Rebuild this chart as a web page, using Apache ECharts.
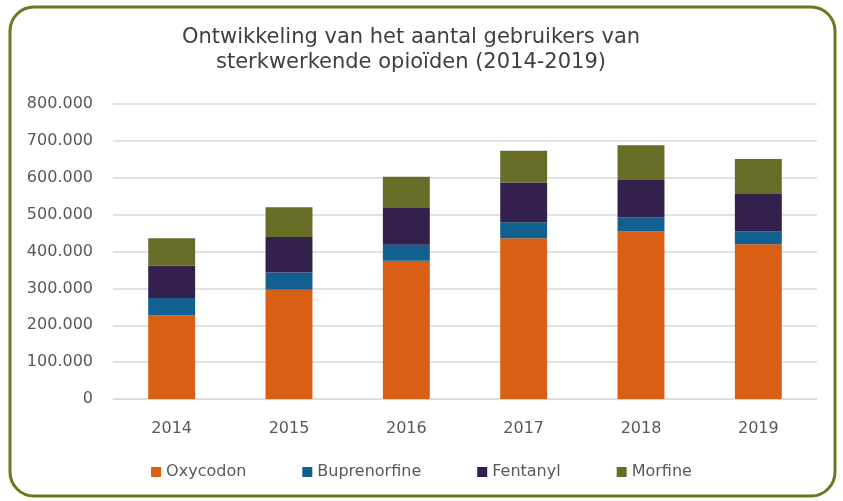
<!DOCTYPE html>
<html>
<head>
<meta charset="utf-8">
<script src="https://cdn.jsdelivr.net/npm/echarts@6/dist/echarts.min.js"></script>
<style>
  html, body { margin: 0; padding: 0; background: #fff; }
  #chart { width: 843px; height: 501px; }
</style>
</head>
<body>
<div id="chart"></div>
<script>
const years = [ "2014", "2015", "2016", "2017", "2018", "2019" ];
const oxycodon = [ 227000, 296000, 375000, 436000, 454000, 420000 ];
const buprenorfine = [ 47000, 47000, 43000, 43000, 39000, 35000 ];
const fentanyl = [ 88000, 96000, 102000, 108000, 101000, 101000 ];
const morfine = [ 74000, 81000, 83000, 86000, 94000, 95000 ];
const yTicks = [ 0, 100000, 200000, 300000, 400000, 500000, 600000, 700000, 800000 ];

const textColor = "#595959";
const font = "DejaVu Sans";

const chart = echarts.init( document.getElementById( "chart" ), null, { renderer: "canvas" } );

/* dutch thousands separator */
function fmt( v ) {
	return String( v ).replace( /\B(?=(\d{3})+(?!\d))/g, "." );
}

function bar( name, data, color ) {
	return {
		name,
		type: "bar",
		stack: "total",
		barWidth: "40%",
		data,
		itemStyle: { color },
		emphasis: { disabled: true }
	};
}

const option = {
	animation: false,
	textStyle: { fontFamily: font, color: textColor },
	title: {
		text: "Ontwikkeling van het aantal gebruikers van\nsterkwerkende opioïden (2014-2019)",
		left: 406,
		textAlign: "center",
		top: 20,
		textStyle: {
			fontFamily: font,
			fontSize: 21,
			fontWeight: "normal",
			color: "#404040",
			lineHeight: 25
		}
	},
	graphic: [ {
		type: "rect",
		shape: { x: 10, y: 7, width: 825, height: 489, r: 24 },
		style: { fill: "none", stroke: "#6b7a1f", lineWidth: 3 },
		z: 100
	} ],
	legend: {
		bottom: 16,
		left: "center",
		itemWidth: 10,
		itemHeight: 10,
		itemGap: 56,
		icon: "rect",
		textStyle: { fontFamily: font, fontSize: 16, color: textColor },
		data: [ "Oxycodon", "Buprenorfine", "Fentanyl", "Morfine" ]
	},
	grid: {
		left: 113,
		right: 26,
		top: 104,
		bottom: 102,
		containLabel: false
	},
	xAxis: {
		type: "category",
		data: years,
		axisLine: { lineStyle: { color: "#d9d9d9", width: 1 } },
		axisTick: { show: false },
		axisLabel: { fontFamily: font, fontSize: 16, color: textColor, margin: 22 }
	},
	yAxis: {
		type: "value",
		min: yTicks[0],
		max: yTicks[yTicks.length - 1],
		interval: yTicks[1] - yTicks[0],
		axisLine: { show: false },
		axisTick: { show: false },
		splitLine: { lineStyle: { color: "#d9d9d9", width: 1.5 } },
		axisLabel: { fontFamily: font, fontSize: 16, color: textColor, margin: 20, formatter: fmt }
	},
	series: [
		bar( "Oxycodon", oxycodon, "#d95f14" ),
		bar( "Buprenorfine", buprenorfine, "#11608f" ),
		bar( "Fentanyl", fentanyl, "#33204d" ),
		bar( "Morfine", morfine, "#676d27" )
	]
};

chart.setOption( option );
</script>
</body>
</html>
